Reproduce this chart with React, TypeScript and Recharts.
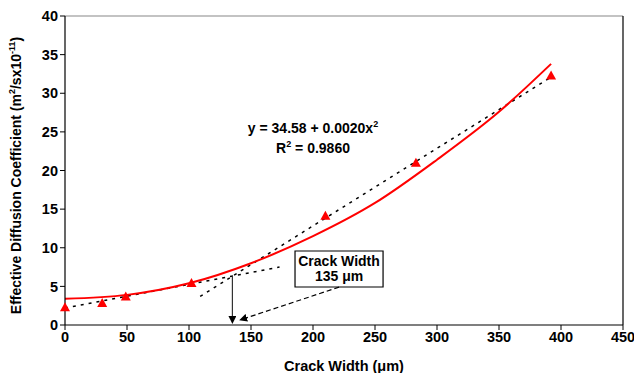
import React from 'react';
import {
  ComposedChart, Line, Scatter, XAxis, YAxis, ReferenceLine, ReferenceArea, ReferenceDot, Label,
} from 'recharts';

const crackWidths = [0, 30, 49, 102, 210, 283, 392];
const diffusion = [2.3, 2.85, 3.7, 5.45, 14.15, 21.0, 32.3];

const fitX = [0, 50, 100, 150, 200, 250, 300, 350, 392];
const fitY = [3.4, 3.9, 5.4, 8.0, 11.5, 15.8, 21.4, 27.6, 33.8];

const trendAX = [0, 173];
const trendAY = [2.2, 7.5];
const trendBX = [109, 392];
const trendBY = [3.7, 32.1];

const xTicks = [0, 50, 100, 150, 200, 250, 300, 350, 400, 450];
const yTicks = [0, 5, 10, 15, 20, 25, 30, 35, 40];

const equationText = 'y = 34.58 + 0.0020x';
const r2Text = '= 0.9860';
const crackLabel = ['Crack Width', '135 μm'];
const crackValue = 135;

const points = crackWidths.map((x, i) => ({ x, y: diffusion[i] }));
const fit = fitX.map((x, i) => ({ x, y: fitY[i] }));
const trendA = trendAX.map((x, i) => ({ x, y: trendAY[i] }));
const trendB = trendBX.map((x, i) => ({ x, y: trendBY[i] }));

const FONT = 'Liberation Sans, Arial, sans-serif';

const Triangle = (props: any) => {
  const { cx, cy } = props;
  if (cx == null || cy == null) return null;
  const s = 5;
  return <path d={`M${cx},${cy - s} L${cx + s},${cy + s * 0.8} L${cx - s},${cy + s * 0.8} Z`} fill="#ff0000" />;
};

const EquationLabel = (props: any) => {
  const { viewBox } = props;
  const x = viewBox.x;
  const y = viewBox.y;
  return (
    <g fontFamily={FONT} fontWeight="bold" fontSize={14} fill="#000">
      <text x={x} y={y} textAnchor="middle">
        {equationText}
        <tspan dy={-6} fontSize={9}>2</tspan>
      </text>
      <text x={x} y={y + 20} textAnchor="middle">
        R<tspan dy={-6} fontSize={9}>2</tspan>
        <tspan dy={6}> {r2Text}</tspan>
      </text>
    </g>
  );
};

const BoxLabel = (props: any) => {
  const { viewBox } = props;
  const cx = viewBox.x + viewBox.width / 2;
  const top = viewBox.y;
  return (
    <g fontFamily={FONT} fontWeight="bold" fontSize={14} fill="#000">
      <text x={cx} y={top + 15} textAnchor="middle">{crackLabel[0]}</text>
      <text x={cx} y={top + 30} textAnchor="middle">{crackLabel[1]}</text>
    </g>
  );
};

const YLabel = (props: any) => {
  const { viewBox } = props;
  const x = 21;
  const y = viewBox.y + viewBox.height / 2 + 5;
  return (
    <text x={x} y={y} transform={`rotate(-90 ${x} ${y})`} textAnchor="middle" fontFamily={FONT} fontWeight="bold" fontSize={14} fill="#000">
      Effective Diffusion Coefficient (m<tspan dy={-6} fontSize={9}>2</tspan>
      <tspan dy={6}>/sx10</tspan>
      <tspan dy={-6} fontSize={9}>-11</tspan>
      <tspan dy={6}>)</tspan>
    </text>
  );
};

export default function App() {
  return (
    <div style={{ position: 'absolute', left: 0, top: 0, background: '#fff' }}>
      <ComposedChart width={634} height={373} margin={{ top: 16, right: 11, bottom: 0, left: 0 }}>
        <defs>
          <marker id="arrowHead" markerWidth="8" markerHeight="8" refX="6" refY="4" orient="auto" markerUnits="userSpaceOnUse">
            <path d="M0,0 L8,4 L0,8 Z" fill="#000" />
          </marker>
        </defs>
        <XAxis
          type="number"
          dataKey="x"
          domain={[0, 450]}
          ticks={xTicks}
          interval={0}
          height={48}
          stroke="#000"
          tickSize={5}
          tick={{ fill: '#000', fontFamily: FONT, fontWeight: 'bold', fontSize: 14.5 }}
          axisLine={{ stroke: '#000', strokeWidth: 1.2 }}
          tickLine={{ stroke: '#000' }}
        >
          <Label value="Crack Width (μm)" position="insideBottom" offset={2} style={{ fontFamily: FONT, fontWeight: 'bold', fontSize: 14.5, fill: '#000' }} />
        </XAxis>
        <YAxis
          type="number"
          domain={[0, 40]}
          ticks={yTicks}
          interval={0}
          width={65}
          stroke="#000"
          tickSize={5}
          tick={{ fill: '#000', fontFamily: FONT, fontWeight: 'bold', fontSize: 14.5 }}
          axisLine={{ stroke: '#000', strokeWidth: 1.2 }}
          tickLine={{ stroke: '#000' }}
          label={<YLabel />}
        />
        <ReferenceLine y={40} stroke="#888" strokeWidth={1.2} />
        <ReferenceLine x={450} stroke="#000" strokeWidth={1.2} />
        <Line data={trendA} dataKey="y" type="linear" stroke="#000" strokeWidth={1.5} strokeDasharray="3 5" dot={false} isAnimationActive={false} />
        <Line data={trendB} dataKey="y" type="linear" stroke="#000" strokeWidth={1.5} strokeDasharray="3 5" dot={false} isAnimationActive={false} />
        <Line data={fit} dataKey="y" type="monotone" stroke="#ff0000" strokeWidth={2} dot={false} isAnimationActive={false} />
        <Scatter data={points} dataKey="y" shape={<Triangle />} isAnimationActive={false} />
        <ReferenceLine
          segment={[{ x: crackValue, y: 6.3 }, { x: crackValue, y: 0.4 }]}
          stroke="#333"
          strokeWidth={1.2}
          markerEnd="url(#arrowHead)"
        />
        <ReferenceLine
          segment={[{ x: 221, y: 4.9 }, { x: 142, y: 0.7 }]}
          stroke="#000"
          strokeWidth={1.2}
          strokeDasharray="5 3"
          markerEnd="url(#arrowHead)"
        />
        <ReferenceArea x1={185.5} x2={256.5} y1={4.92} y2={9.58} fill="#fff" fillOpacity={1} stroke="#000" strokeWidth={1.2} label={<BoxLabel />} />
        <ReferenceDot x={200} y={24.8} r={0} fill="none" stroke="none" label={<EquationLabel />} />
      </ComposedChart>
    </div>
  );
}
